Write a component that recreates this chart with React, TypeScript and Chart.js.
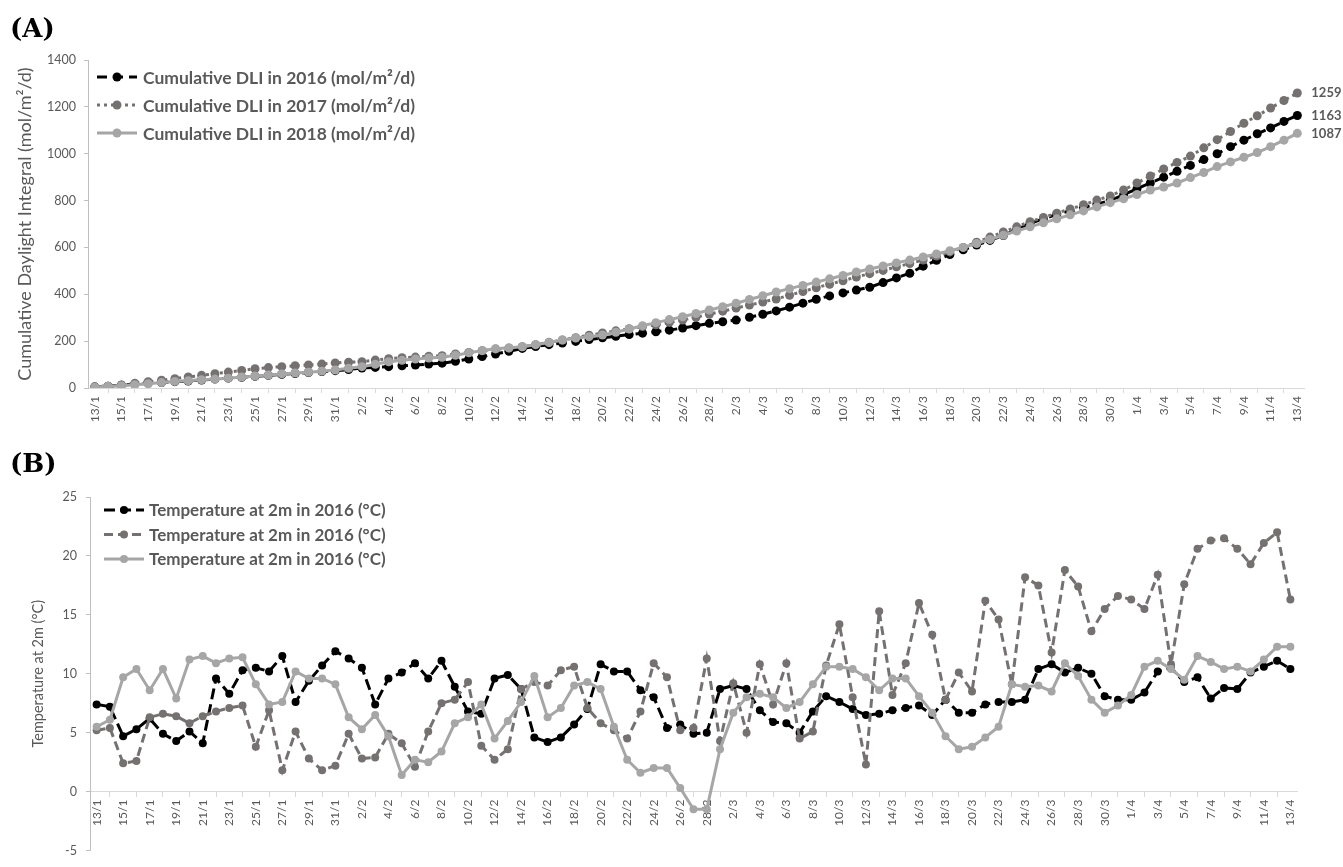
import React, { useEffect, useRef } from 'react';
import { Chart, registerables } from 'chart.js';

Chart.register(...registerables);

const FONT = 'Lato, "Open Sans", sans-serif';
const TEXT = '#595959';

const categories = [
  '13/1', '14/1', '15/1', '16/1', '17/1', '18/1', '19/1', '20/1', '21/1', '22/1',
  '23/1', '24/1', '25/1', '26/1', '27/1', '28/1', '29/1', '30/1', '31/1',
  '1/2', '2/2', '3/2', '4/2', '5/2', '6/2', '7/2', '8/2', '9/2', '10/2',
  '11/2', '12/2', '13/2', '14/2', '15/2', '16/2', '17/2', '18/2', '19/2', '20/2',
  '21/2', '22/2', '23/2', '24/2', '25/2', '26/2', '27/2', '28/2',
  '1/3', '2/3', '3/3', '4/3', '5/3', '6/3', '7/3', '8/3', '9/3', '10/3',
  '11/3', '12/3', '13/3', '14/3', '15/3', '16/3', '17/3', '18/3', '19/3', '20/3',
  '21/3', '22/3', '23/3', '24/3', '25/3', '26/3', '27/3', '28/3', '29/3', '30/3', '31/3',
  '1/4', '2/4', '3/4', '4/4', '5/4', '6/4', '7/4', '8/4', '9/4', '10/4',
  '11/4', '12/4', '13/4',
];

const dliYTicks = [0, 200, 400, 600, 800, 1000, 1200, 1400];
const tempYTicks = [-5, 0, 5, 10, 15, 20, 25];

const dli2016 = [
  5, 8, 12, 16, 20, 23, 27, 30, 34, 38,
  42, 46, 50, 54, 58, 62, 66, 70, 74, 79,
  85, 88, 91, 95, 98, 102, 106, 114, 124, 134,
  145, 157, 169, 177, 185, 192, 199, 207, 214, 221,
  228, 234, 240, 247, 256, 266, 276, 283, 290, 302,
  315, 329, 345, 362, 379, 393, 406, 418, 430, 450,
  470, 490, 520, 545, 570, 590, 610, 630, 651, 676,
  702, 722, 741, 756, 770, 785, 800, 825, 850, 875,
  900, 925, 950, 975, 1000, 1030, 1058, 1085, 1110, 1138,
  1163,
];

const dli2017 = [
  4, 8, 13, 20, 27, 33, 40, 47, 54, 61,
  68, 75, 82, 87, 91, 95, 98, 102, 107, 110,
  112, 119, 125, 129, 132, 135, 138, 145, 152, 159,
  166, 170, 176, 185, 195, 205, 215, 225, 235, 244,
  253, 262, 270, 280, 290, 302, 315, 328, 341, 354,
  367, 380, 396, 412, 428, 443, 458, 474, 488, 502,
  517, 531, 546, 563, 581, 600, 622, 644, 666, 688,
  710, 728, 746, 764, 782, 802, 820, 845, 875, 905,
  935, 963, 990, 1025, 1060, 1095, 1130, 1162, 1195, 1227,
  1259,
];

const dli2018 = [
  4, 7, 10, 14, 18, 23, 28, 31, 35, 38,
  42, 47, 51, 55, 60, 64, 67, 72, 77, 84,
  91, 101, 112, 118, 124, 128, 131, 140, 150, 160,
  168, 172, 176, 185, 194, 205, 213, 219, 226, 238,
  252, 266, 279, 292, 304, 318, 333, 347, 362, 378,
  394, 410, 424, 438, 452, 466, 480, 495, 508, 521,
  534, 546, 559, 572, 586, 600, 617, 634, 652, 670,
  688, 705, 722, 739, 756, 773, 791, 808, 826, 845,
  858, 875, 898, 920, 945, 965, 985, 1005, 1030, 1058,
  1087,
];

const temp2016 = [
  7.4, 7.2, 4.7, 5.3, 6.2, 4.9, 4.3, 5.1, 4.1, 9.6,
  8.3, 10.3, 10.5, 10.2, 11.5, 7.6, 9.4, 10.7, 11.9, 11.3,
  10.5, 7.4, 9.6, 10.1, 10.9, 9.6, 11.1, 8.9, 6.8, 6.6,
  9.6, 9.9, 8.7, 4.6, 4.2, 4.6, 5.7, 7.0, 10.8, 10.2,
  10.2, 8.6, 8.0, 5.4, 5.7, 4.9, 5.0, 8.7, 9.0, 8.7,
  6.9, 5.9, 5.8, 5.0, 6.8, 8.1, 7.6, 7.0, 6.5, 6.6,
  6.9, 7.1, 7.3, 6.5, 7.8, 6.7, 6.7, 7.4, 7.6, 7.6,
  7.8, 10.4, 10.8, 10.1, 10.5, 10.0, 8.1, 7.8, 7.8, 8.4,
  10.2, 10.5, 9.3, 9.7, 7.9, 8.8, 8.7, 10.1, 10.6, 11.1,
  10.4,
];

const temp2017 = [
  5.2, 5.4, 2.4, 2.6, 6.3, 6.6, 6.4, 5.8, 6.4, 6.8,
  7.1, 7.3, 3.8, 6.9, 1.8, 5.1, 2.8, 1.8, 2.2, 4.9,
  2.8, 2.9, 4.9, 4.1, 2.1, 5.1, 7.5, 7.8, 9.3, 3.9,
  2.7, 3.6, 8.7, 9.3, 9.0, 10.3, 10.6, 7.1, 5.8, 5.2,
  4.5, 6.8, 10.9, 9.7, 5.2, 5.4, 11.3, 4.3, 9.2, 5.0,
  10.8, 7.4, 10.9, 4.5, 5.1, 10.7, 14.2, 8.0, 2.3, 15.3,
  8.2, 10.9, 16.0, 13.3, 7.8, 10.1, 8.5, 16.2, 14.6, 9.1,
  18.2, 17.5, 11.8, 18.8, 17.4, 13.6, 15.5, 16.6, 16.3, 15.5,
  18.4, 10.8, 17.6, 20.6, 21.3, 21.5, 20.6, 19.3, 21.1, 22.0,
  16.3,
];

const temp2018 = [
  5.5, 6.1, 9.7, 10.4, 8.6, 10.4, 7.9, 11.2, 11.5, 10.9,
  11.3, 11.4, 9.1, 7.4, 7.6, 10.2, 9.6, 9.6, 9.1, 6.3,
  5.3, 6.5, 4.7, 1.4, 2.7, 2.5, 3.4, 5.8, 6.3, 7.4,
  4.5, 6.0, 7.6, 9.8, 6.3, 7.1, 9.0, 9.3, 8.7, 5.5,
  2.7, 1.6, 2.0, 2.0, 0.3, -1.5, -1.5, 3.6, 6.7, 8.0,
  8.3, 8.0, 7.1, 7.6, 9.1, 10.6, 10.6, 10.4, 9.7, 8.6,
  9.6, 9.6, 8.1, 6.7, 4.7, 3.6, 3.8, 4.6, 5.5, 9.1,
  8.9, 9.0, 8.5, 10.9, 9.8, 7.8, 6.7, 7.3, 8.2, 10.6,
  11.1, 10.4, 9.5, 11.5, 11.0, 10.4, 10.6, 10.2, 11.2, 12.3,
  12.3,
];

const dliSeriesNames = [
  'Cumulative DLI in 2016 (mol/m²/d)',
  'Cumulative DLI in 2017 (mol/m²/d)',
  'Cumulative DLI in 2018 (mol/m²/d)',
];
const tempSeriesNames = [
  'Temperature at 2m in 2016 (°C)',
  'Temperature at 2m in 2016 (°C)',
  'Temperature at 2m in 2016 (°C)',
];

const insideLegend = {
  id: 'insideLegend',
  afterDraw(chart: any, _args: any, opts: any) {
    const { ctx, chartArea } = chart;
    ctx.save();
    chart.data.datasets.forEach((ds: any, i: number) => {
      const y = chartArea.top + opts.dy + i * opts.gap;
      const x0 = chartArea.left + opts.dx;
      const x1 = x0 + opts.sample;
      ctx.strokeStyle = ds.borderColor;
      ctx.lineWidth = ds.borderWidth;
      ctx.setLineDash(ds.borderDash || []);
      ctx.beginPath();
      ctx.moveTo(x0, y);
      ctx.lineTo(x1, y);
      ctx.stroke();
      ctx.setLineDash([]);
      ctx.fillStyle = ds.pointBackgroundColor;
      ctx.beginPath();
      ctx.arc((x0 + x1) / 2, y, ds.pointRadius, 0, Math.PI * 2);
      ctx.fill();
      ctx.fillStyle = TEXT;
      ctx.font = opts.font;
      ctx.textBaseline = 'middle';
      ctx.textAlign = 'left';
      ctx.fillText(ds.label, x1 + opts.textGap, y + 1);
    });
    ctx.restore();
  },
};

const endLabels = {
  id: 'endLabels',
  afterDatasetsDraw(chart: any, _args: any, opts: any) {
    if (!opts || !opts.enabled) return;
    const { ctx } = chart;
    ctx.save();
    ctx.font = opts.font;
    ctx.fillStyle = TEXT;
    ctx.textBaseline = 'middle';
    ctx.textAlign = 'left';
    chart.data.datasets.forEach((ds: any, i: number) => {
      const meta = chart.getDatasetMeta(i);
      const pt = meta.data[meta.data.length - 1];
      const v = ds.data[ds.data.length - 1];
      ctx.fillText(String(v), pt.x + opts.offset, pt.y);
    });
    ctx.restore();
  },
};

function lineDs(label: string, data: number[], color: string, dash: number[], radius: number, order: number) {
  return {
    label,
    data,
    borderColor: color,
    backgroundColor: color,
    borderWidth: 3,
    borderDash: dash,
    pointRadius: radius,
    pointBackgroundColor: color,
    pointBorderColor: color,
    pointBorderWidth: 0,
    pointHoverRadius: radius,
    tension: 0,
    fill: false,
    order,
  };
}

function xScale(extra: any) {
  return {
    type: 'category',
    offset: true,
    grid: {
      display: true,
      drawOnChartArea: false,
      drawTicks: true,
      tickLength: 5,
      color: '#d9d9d9',
      offset: true,
    },
    border: { display: true, color: '#d9d9d9', width: 1 },
    ticks: {
      autoSkip: false,
      minRotation: 90,
      maxRotation: 90,
      padding: 3,
      color: TEXT,
      font: { family: FONT, size: 12 },
      callback: (_v: any, i: number) => (i % 2 === 0 ? categories[i] : null),
    },
    ...extra,
  };
}

function yScale(ticks: number[], title: string, width: number, titleSize: number, titlePad: number, tickPad: number) {
  return {
    type: 'linear',
    min: ticks[0],
    max: ticks[ticks.length - 1],
    afterFit: (s: any) => {
      s.width = width;
    },
    afterBuildTicks: (s: any) => {
      s.ticks = ticks.map((v) => ({ value: v }));
    },
    grid: { drawOnChartArea: false, drawTicks: true, tickLength: 4, color: '#bfbfbf' },
    border: { display: true, color: '#bfbfbf', width: 1 },
    ticks: {
      padding: tickPad,
      color: TEXT,
      font: { family: FONT, size: 12.5 },
      callback: (v: any) => String(v),
    },
    title: {
      display: true,
      text: title,
      color: TEXT,
      font: { family: FONT, size: titleSize },
      padding: { top: titlePad, bottom: 0 },
    },
  };
}

export default function App() {
  const refA = useRef<HTMLCanvasElement>(null);
  const refB = useRef<HTMLCanvasElement>(null);

  useEffect(() => {
    const chartA = new Chart(refA.current as HTMLCanvasElement, {
      type: 'line',
      data: {
        labels: categories,
        datasets: [
          lineDs(dliSeriesNames[0], dli2016, '#000000', [10, 6], 4.5, 3),
          lineDs(dliSeriesNames[1], dli2017, '#767171', [3, 4], 4.5, 2),
          lineDs(dliSeriesNames[2], dli2018, '#a6a6a6', [], 4.5, 1),
        ] as any,
      },
      options: {
        animation: false,
        responsive: false,
        events: [],
        layout: { padding: { top: 60, right: 39, bottom: 0, left: 0 } },
        scales: {
          x: xScale({ afterFit: (s: any) => { s.height = 52; } }),
          y: yScale(dliYTicks, 'Cumulative Daylight Integral (mol/m²/d)', 88, 18, 14, 8),
        } as any,
        plugins: {
          legend: { display: false },
          tooltip: { enabled: false },
          insideLegend: { dx: 9, dy: 17, gap: 28, sample: 40, textGap: 6, font: `bold 17.5px ${FONT}` },
          endLabels: { enabled: true, offset: 14, font: `bold 13px ${FONT}` },
        } as any,
      },
      plugins: [insideLegend, endLabels],
    });

    const chartB = new Chart(refB.current as HTMLCanvasElement, {
      type: 'line',
      data: {
        labels: categories,
        datasets: [
          lineDs(tempSeriesNames[0], temp2016, '#000000', [11, 5], 4, 3),
          lineDs(tempSeriesNames[1], temp2017, '#767171', [9, 5], 4, 2),
          lineDs(tempSeriesNames[2], temp2018, '#a6a6a6', [], 4, 1),
        ] as any,
      },
      options: {
        animation: false,
        responsive: false,
        events: [],
        layout: { padding: { top: 57, right: 46, bottom: 7, left: 0 } },
        scales: {
          x: xScale({ position: { y: 0 } }),
          y: yScale(tempYTicks, 'Temperature at 2m (°C)', 90, 14.5, 30, 9),
        } as any,
        plugins: {
          legend: { display: false },
          tooltip: { enabled: false },
          insideLegend: { dx: 14, dy: 13, gap: 24.5, sample: 40, textGap: 5, font: `bold 17px ${FONT}` },
          endLabels: { enabled: false },
        } as any,
      },
      plugins: [insideLegend, endLabels],
    });

    return () => {
      chartA.destroy();
      chartB.destroy();
    };
  }, []);

  const panelLabel: React.CSSProperties = {
    position: 'absolute',
    left: 10,
    fontFamily: '"DejaVu Serif", serif',
    fontWeight: 'bold',
    fontSize: 26,
    lineHeight: '28px',
    color: '#000',
  };

  return (
    <div style={{ position: 'fixed', left: 0, top: 0, width: 1343, height: 867, background: '#ffffff', overflow: 'hidden' }}>
      <canvas ref={refA} width={1343} height={440} style={{ position: 'absolute', left: 0, top: 0, width: 1343, height: 440 }} />
      <canvas ref={refB} width={1343} height={427} style={{ position: 'absolute', left: 0, top: 440, width: 1343, height: 427 }} />
      <div style={{ ...panelLabel, top: 14 }}>(A)</div>
      <div style={{ ...panelLabel, top: 449 }}>(B)</div>
    </div>
  );
}
